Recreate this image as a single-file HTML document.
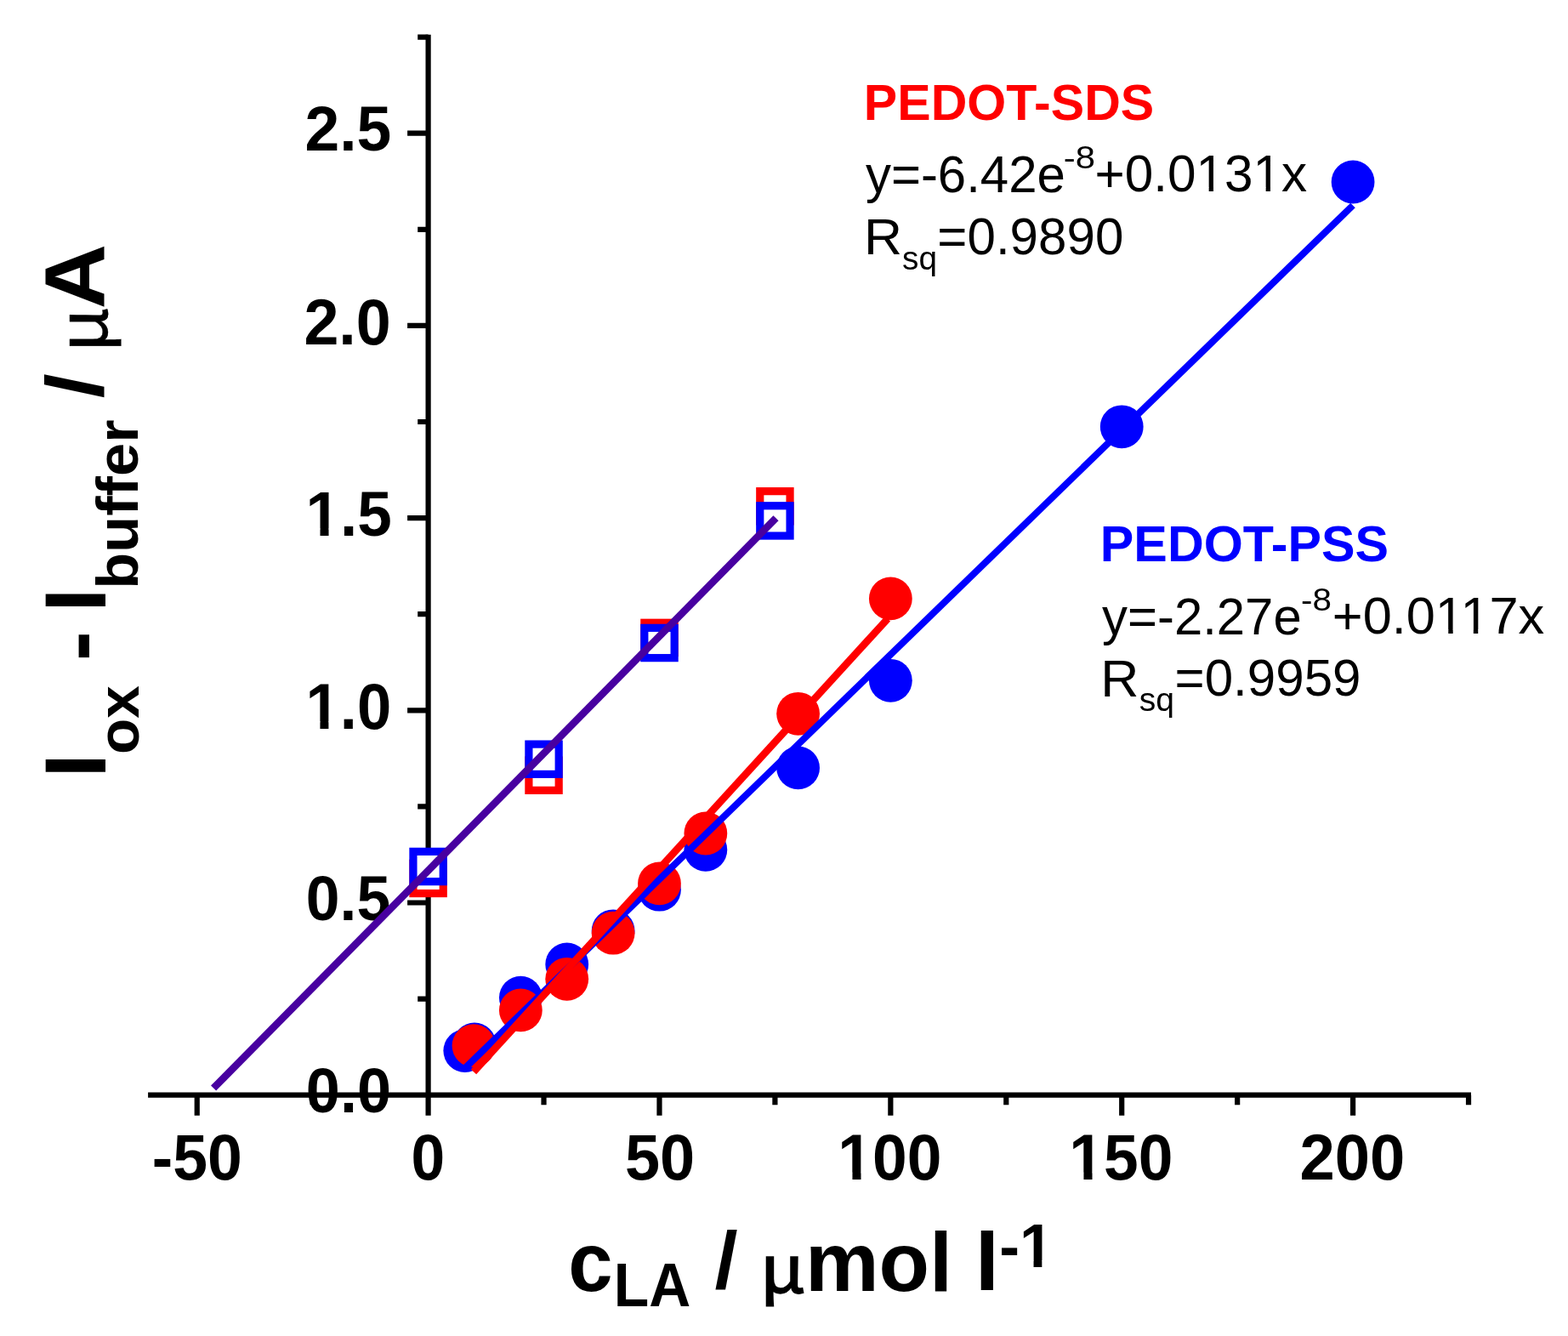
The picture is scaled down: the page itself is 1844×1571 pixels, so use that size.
<!DOCTYPE html>
<html lang="en"><head><meta charset="utf-8"><title>Calibration plot: PEDOT-SDS vs PEDOT-PSS</title>
<style>html,body{margin:0;padding:0;background:#fff;width:1844px;height:1571px;overflow:hidden}svg{display:block}</style>
</head><body>
<svg width="1844" height="1571" viewBox="0 0 1844 1571">
<rect width="1844" height="1571" fill="#fff"/>
<g stroke="#000" stroke-width="6.2" fill="none">
<path d="M503.6 40.7V1290.80M174.1 1287.7H1730"/>
<path d="M491.2 1174.60H503.6M479.1 1061.50H503.6M491.2 948.40H503.6M479.1 835.30H503.6M491.2 722.20H503.6M479.1 609.10H503.6M491.2 496.00H503.6M479.1 382.90H503.6M491.2 269.80H503.6M479.1 156.70H503.6M491.2 43.60H503.6M231.73 1287.7V1311.8M367.66 1287.7V1299.2M503.60 1287.7V1311.8M639.54 1287.7V1299.2M775.48 1287.7V1311.8M911.41 1287.7V1299.2M1047.35 1287.7V1311.8M1183.29 1287.7V1299.2M1319.22 1287.7V1311.8M1455.16 1287.7V1299.2M1591.10 1287.7V1311.8M1727.04 1287.7V1299.2"/>
</g>
<defs><clipPath id="c2" clipPathUnits="userSpaceOnUse"><path clip-rule="evenodd" d="M0 0H1844V1571H0ZM303.29 391.64H317.74V403.00H303.29ZM328.17 391.64H341.65V403.00H328.17Z"/></clipPath><clipPath id="c3" clipPathUnits="userSpaceOnUse"><path clip-rule="evenodd" d="M0 0H1844V1571H0ZM303.29 391.64H317.74V403.00H303.29ZM328.17 391.64H341.65V403.00H328.17Z"/></clipPath><clipPath id="c9" clipPathUnits="userSpaceOnUse"><path clip-rule="evenodd" d="M0 0H1844V1571H0ZM303.29 391.64H317.74V403.00H303.29ZM328.17 391.64H341.65V403.00H328.17Z"/></clipPath><clipPath id="c10" clipPathUnits="userSpaceOnUse"><path clip-rule="evenodd" d="M0 0H1844V1571H0ZM303.29 391.64H317.74V403.00H303.29ZM328.17 391.64H341.65V403.00H328.17Z"/></clipPath><clipPath id="c15" clipPathUnits="userSpaceOnUse"><path clip-rule="evenodd" d="M0 0H1844V1571H0ZM421.51 394.92H433.53V403.00H421.51ZM438.83 394.92H450.38V403.00H438.83ZM488.24 394.92H500.26V403.00H488.24ZM505.56 394.92H517.11V403.00H505.56Z"/></clipPath><clipPath id="c22" clipPathUnits="userSpaceOnUse"><path clip-rule="evenodd" d="M0 0H1844V1571H0ZM421.51 394.92H433.53V403.00H421.51ZM438.83 394.92H450.38V403.00H438.83ZM450.43 394.92H462.45V403.00H450.43ZM467.75 394.92H479.30V403.00H467.75Z"/></clipPath><clipPath id="c32" clipPathUnits="userSpaceOnUse"><path clip-rule="evenodd" d="M0 0H1844V1571H0ZM325.42 392.46H338.51V403.00H325.42ZM347.84 392.46H360.07V403.00H347.84Z"/></clipPath></defs>
<g><text x="300" y="400" transform="matrix(0.9634,0,0,0.9870,69.40,-217.70)" font-family="'Liberation Sans', Arial, sans-serif" font-size="76" font-weight="bold" fill="#000">2.5</text><text x="300" y="400" transform="matrix(0.9690,0,0,0.9944,66.69,6.83)" font-family="'Liberation Sans', Arial, sans-serif" font-size="76" font-weight="bold" fill="#000">2.0</text><text x="300" y="400" transform="matrix(0.9596,0,0,0.9815,71.62,237.23)" font-family="'Liberation Sans', Arial, sans-serif" font-size="76" font-weight="bold" fill="#000" clip-path="url(#c2)">1.5</text><text x="300" y="400" transform="matrix(0.9531,0,0,0.9889,73.62,461.06)" font-family="'Liberation Sans', Arial, sans-serif" font-size="76" font-weight="bold" fill="#000" clip-path="url(#c3)">1.0</text><text x="300" y="400" transform="matrix(0.9406,0,0,0.9833,77.70,688.68)" font-family="'Liberation Sans', Arial, sans-serif" font-size="76" font-weight="bold" fill="#000">0.5</text><text x="300" y="400" transform="matrix(0.9480,0,0,0.9667,75.46,921.17)" font-family="'Liberation Sans', Arial, sans-serif" font-size="76" font-weight="bold" fill="#000">0.0</text><text x="300" y="400" transform="matrix(0.9663,0,0,0.9944,-111.20,989.33)" font-family="'Liberation Sans', Arial, sans-serif" font-size="76" font-weight="bold" fill="#000">-50</text><text x="300" y="400" transform="matrix(0.9389,0,0,0.9944,201.72,989.33)" font-family="'Liberation Sans', Arial, sans-serif" font-size="76" font-weight="bold" fill="#000">0</text><text x="300" y="400" transform="matrix(0.9731,0,0,0.9963,443.06,988.49)" font-family="'Liberation Sans', Arial, sans-serif" font-size="76" font-weight="bold" fill="#000">50</text><text x="300" y="400" transform="matrix(0.9630,0,0,0.9963,696.48,988.49)" font-family="'Liberation Sans', Arial, sans-serif" font-size="76" font-weight="bold" fill="#000" clip-path="url(#c9)">100</text><text x="300" y="400" transform="matrix(0.9630,0,0,0.9963,968.48,988.49)" font-family="'Liberation Sans', Arial, sans-serif" font-size="76" font-weight="bold" fill="#000" clip-path="url(#c10)">150</text><text x="300" y="400" transform="matrix(0.9760,0,0,1.0019,1235.76,986.26)" font-family="'Liberation Sans', Arial, sans-serif" font-size="76" font-weight="bold" fill="#000">200</text></g>
<rect x="485.95" y="1015.25" width="35.3" height="35.3" fill="#fff" stroke="#ff0000" stroke-width="9.2"/>
<rect x="621.89" y="894.05" width="35.3" height="35.3" fill="#fff" stroke="#ff0000" stroke-width="9.2"/>
<rect x="757.83" y="732.25" width="35.3" height="35.3" fill="#fff" stroke="#ff0000" stroke-width="9.2"/>
<rect x="893.76" y="577.65" width="35.3" height="35.3" fill="#fff" stroke="#ff0000" stroke-width="9.2"/>
<rect x="485.95" y="1001.35" width="35.3" height="35.3" fill="#fff" stroke="#0000ff" stroke-width="9.2"/>
<rect x="621.89" y="875.10" width="35.3" height="35.3" fill="#fff" stroke="#0000ff" stroke-width="9.2"/>
<rect x="757.83" y="738.35" width="35.3" height="35.3" fill="#fff" stroke="#0000ff" stroke-width="9.2"/>
<rect x="893.76" y="594.75" width="35.3" height="35.3" fill="#fff" stroke="#0000ff" stroke-width="9.2"/>
<line x1="251.1" y1="1279.6" x2="912.5" y2="609.2" stroke="#4800a0" stroke-width="8.6"/>
<circle cx="546.80" cy="1235.60" r="25.4" fill="#0000ff"/>
<circle cx="558.00" cy="1228.00" r="25.4" fill="#0000ff"/>
<circle cx="612.35" cy="1173.10" r="25.4" fill="#0000ff"/>
<circle cx="666.73" cy="1133.90" r="25.4" fill="#0000ff"/>
<circle cx="721.10" cy="1094.80" r="25.4" fill="#0000ff"/>
<circle cx="775.48" cy="1046.20" r="25.4" fill="#0000ff"/>
<circle cx="829.85" cy="999.30" r="25.4" fill="#0000ff"/>
<circle cx="938.60" cy="902.90" r="25.4" fill="#0000ff"/>
<circle cx="1047.35" cy="800.30" r="25.4" fill="#0000ff"/>
<circle cx="1319.22" cy="501.80" r="25.4" fill="#0000ff"/>
<circle cx="1591.10" cy="214.00" r="25.4" fill="#0000ff"/>
<circle cx="557.00" cy="1229.60" r="25.4" fill="#ff0000"/>
<circle cx="612.35" cy="1187.90" r="25.4" fill="#ff0000"/>
<circle cx="666.73" cy="1151.30" r="25.4" fill="#ff0000"/>
<circle cx="721.10" cy="1097.20" r="25.4" fill="#ff0000"/>
<circle cx="775.48" cy="1038.90" r="25.4" fill="#ff0000"/>
<circle cx="829.85" cy="980.00" r="25.4" fill="#ff0000"/>
<circle cx="938.60" cy="839.30" r="25.4" fill="#ff0000"/>
<circle cx="1047.35" cy="703.90" r="25.4" fill="#ff0000"/>
<line x1="547" y1="1255.9" x2="1591" y2="241.5" stroke="#0000ff" stroke-width="8.0"/>
<line x1="557" y1="1260.4" x2="1043.9" y2="727.6" stroke="#ff0000" stroke-width="8.6"/>
<g><text x="300" y="400" transform="matrix(0.9847,0,0,0.9884,720.45,-254.04)" font-family="'Liberation Sans', Arial, sans-serif" font-size="60" font-weight="bold" fill="#ff0000">PEDOT-SDS</text><text x="300" y="400" transform="matrix(0.9996,0,0,1.0037,718.03,-175.73)" font-family="'Liberation Sans', Arial, sans-serif" font-size="60" font-weight="normal" fill="#000">y=-6.42e</text><text x="300" y="400" transform="matrix(1.1000,0,0,0.9889,920.80,-197.06)" font-family="'Liberation Sans', Arial, sans-serif" font-size="38" font-weight="normal" fill="#000">-8</text><text x="300" y="400" transform="matrix(1.0041,0,0,1.0047,986.36,-176.87)" font-family="'Liberation Sans', Arial, sans-serif" font-size="60" font-weight="normal" fill="#000" clip-path="url(#c15)">+0.0131x</text><text x="300" y="400" transform="matrix(1.0400,0,0,0.9951,704.10,-99.45)" font-family="'Liberation Sans', Arial, sans-serif" font-size="60" font-weight="normal" fill="#000">R</text><text x="300" y="400" transform="matrix(0.9692,0,0,0.9667,770.26,-69.80)" font-family="'Liberation Sans', Arial, sans-serif" font-size="40" font-weight="normal" fill="#000">sq</text><text x="300" y="400" transform="matrix(1.0023,0,0,1.0093,801.69,-104.43)" font-family="'Liberation Sans', Arial, sans-serif" font-size="60" font-weight="normal" fill="#000">=0.9890</text><text x="300" y="400" transform="matrix(0.9878,0,0,1.0000,997.50,260.20)" font-family="'Liberation Sans', Arial, sans-serif" font-size="60" font-weight="bold" fill="#0000ff">PEDOT-PSS</text><text x="300" y="400" transform="matrix(0.9978,0,0,1.0259,996.75,335.52)" font-family="'Liberation Sans', Arial, sans-serif" font-size="60" font-weight="normal" fill="#000">y=-2.27e</text><text x="300" y="400" transform="matrix(1.0633,0,0,0.9852,1211.07,323.93)" font-family="'Liberation Sans', Arial, sans-serif" font-size="38" font-weight="normal" fill="#000">-8</text><text x="300" y="400" transform="matrix(1.0217,0,0,1.0047,1260.34,343.13)" font-family="'Liberation Sans', Arial, sans-serif" font-size="60" font-weight="normal" fill="#000" clip-path="url(#c22)">+0.0117x</text><text x="300" y="400" transform="matrix(1.0429,0,0,1.0171,981.43,411.77)" font-family="'Liberation Sans', Arial, sans-serif" font-size="60" font-weight="normal" fill="#000">R</text><text x="300" y="400" transform="matrix(0.9769,0,0,0.9833,1046.65,442.60)" font-family="'Liberation Sans', Arial, sans-serif" font-size="40" font-weight="normal" fill="#000">sq</text><text x="300" y="400" transform="matrix(1.0019,0,0,1.0093,1081.03,414.77)" font-family="'Liberation Sans', Arial, sans-serif" font-size="60" font-weight="normal" fill="#000">=0.9959</text><text x="300" y="400" transform="matrix(0.9702,0,0,1.0132,377.26,1112.40)" font-family="'Liberation Sans', Arial, sans-serif" font-size="97" font-weight="bold" fill="#000">c</text><text x="300" y="400" transform="matrix(0.9976,0,0,1.0553,422.43,1113.57)" font-family="'Liberation Sans', Arial, sans-serif" font-size="68" font-weight="bold" fill="#000">LA</text><text x="300" y="400" transform="matrix(1.0080,0,0,0.9708,537.99,1126.72)" font-family="'Liberation Sans', Arial, sans-serif" font-size="97" font-weight="bold" fill="#000">/</text><text x="300" y="400" transform="matrix(0.8765,0,0,0.8014,630.85,1199.13)" font-family="'Noto Sans CJK JP', 'DejaVu Sans', sans-serif" font-size="97" font-weight="normal" fill="#000" stroke="#000" stroke-width="1.9">μ</text><text x="300" y="400" transform="matrix(1.0044,0,0,1.0085,645.66,1114.31)" font-family="'Liberation Sans', Arial, sans-serif" font-size="97" font-weight="bold" fill="#000">mol</text><text x="300" y="400" transform="matrix(1.0692,0,0,0.9986,825.65,1117.57)" font-family="'Liberation Sans', Arial, sans-serif" font-size="97" font-weight="bold" fill="#000">l</text><text x="300" y="400" transform="matrix(1.0489,0,0,1.0723,860.49,1061.26)" font-family="'Liberation Sans', Arial, sans-serif" font-size="68" font-weight="bold" fill="#000" clip-path="url(#c32)">-1</text><text x="300" y="400" transform="matrix(0,-1.0000,0.9944,0,-273.98,1214.70)" font-family="'Liberation Sans', Arial, sans-serif" font-size="103" font-weight="bold" fill="#000">I</text><text x="300" y="400" transform="matrix(0,-0.9885,0.9795,0,-228.97,1183.50)" font-family="'Liberation Sans', Arial, sans-serif" font-size="70" font-weight="bold" fill="#000">ox</text><text x="300" y="400" transform="matrix(0,-1.0269,1.0167,0,-281.12,1085.38)" font-family="'Liberation Sans', Arial, sans-serif" font-size="103" font-weight="bold" fill="#000">-</text><text x="300" y="400" transform="matrix(0,-0.9733,0.9944,0,-273.98,1011.71)" font-family="'Liberation Sans', Arial, sans-serif" font-size="103" font-weight="bold" fill="#000">I</text><text x="300" y="400" transform="matrix(0,-1.0057,0.9788,0,-229.02,994.55)" font-family="'Liberation Sans', Arial, sans-serif" font-size="70" font-weight="bold" fill="#000">buffer</text><text x="300" y="400" transform="matrix(0,-1.0148,0.9141,0,-244.78,772.76)" font-family="'Liberation Sans', Arial, sans-serif" font-size="103" font-weight="bold" fill="#000">/</text><text x="300" y="400" transform="matrix(0,-0.8264,0.7818,0,-186.45,662.36)" font-family="'Noto Sans CJK JP', 'DejaVu Sans', sans-serif" font-size="103" font-weight="normal" fill="#000" stroke="#000" stroke-width="0.5">μ</text><text x="300" y="400" transform="matrix(0,-1.0279,0.9767,0,-268.06,671.87)" font-family="'Liberation Sans', Arial, sans-serif" font-size="103" font-weight="bold" fill="#000">A</text></g>
</svg>
</body></html>
